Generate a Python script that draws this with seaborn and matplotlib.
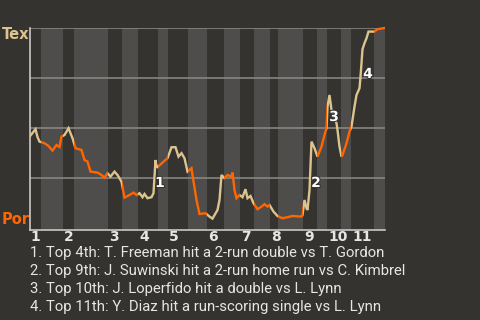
import numpy as np
import pandas as pd
import matplotlib
matplotlib.use("Agg")
import matplotlib.pyplot as plt
import matplotlib.transforms as mtransforms
import matplotlib.patheffects as pe
from matplotlib.patches import Rectangle
import seaborn as sns

# ---- data ----
play = [0, 3, 6, 8, 10, 15, 19, 23, 27, 30, 32, 35, 39, 43, 46, 52, 55, 58, 61, 68,
        72, 75, 78, 81, 85, 88, 92, 95, 100, 104, 107, 110, 113, 115, 118, 122, 124, 126, 127, 128,
        133, 138, 142, 146, 149, 152, 155, 158, 162, 163, 167, 170, 176, 180, 183, 188, 190, 192, 195, 198,
        202, 203, 205, 207, 210, 213, 216, 218, 221, 224, 228, 232, 235, 238, 240, 244, 248, 253, 258, 263,
        272, 273, 275, 277, 278, 280, 282, 285, 288, 292, 295, 297, 298, 300, 302, 307, 308, 310, 312, 313,
        317, 320, 322, 325, 327, 330, 331, 332, 333, 335, 337, 339, 345, 348, 355]
tex_wp = [45.6, 47.5, 49.4, 45.5, 43.2, 42.4, 41.0, 38.7, 41.5, 40.5, 45.7, 46.5, 49.9, 44.9, 39.9, 39.0, 34.0, 33.2, 28.2, 27.7,
          26.5, 25.2, 27.4, 25.7, 28.2, 26.5, 23.2, 15.2, 16.5, 17.7, 16.5, 17.4, 15.4, 17.0, 14.9, 15.4, 17.4, 34.0, 30.7, 30.4,
          32.7, 34.9, 40.4, 40.4, 35.7, 37.4, 34.9, 28.2, 29.9, 26.5, 14.0, 7.0, 7.4, 5.7, 4.7, 9.0, 14.0, 26.5, 24.9, 26.5,
          25.7, 27.7, 19.0, 14.9, 16.5, 15.4, 19.4, 14.9, 16.0, 12.4, 9.4, 10.7, 11.9, 10.7, 11.5, 8.2, 6.0, 4.9, 5.4, 6.0,
          5.7, 6.5, 14.0, 9.9, 9.0, 19.0, 43.2, 39.9, 35.7, 40.7, 46.5, 49.9, 60.7, 66.5, 59.0, 52.4, 49.0, 40.7, 35.7, 36.5,
          42.4, 48.2, 50.7, 60.7, 66.5, 69.9, 75.7, 82.4, 89.4, 92.4, 94.9, 98.2, 98.2, 99.4, 100.0]
half_edges = [0, 11.5, 33.5, 44.5, 78.5, 92.5, 108.5, 128.5, 138.5, 158.5, 177.5, 194.5,
              210.5, 224.5, 240.5, 248.5, 273.5, 287.5, 297.5, 311.5, 321.5, 344.5, 355]
inning_labels = ["1", "2", "3", "4", "5", "6", "7", "8", "9", "10", "11"]
teams = ["Tex", "Por"]
team_colors = ["#dcc48e", "#ff6600"]
event_ids = ["1", "2", "3", "4"]
event_label_play = [130.5, 286.5, 304.5, 338.5]
event_label_wp = [22.5, 22.5, 55.5, 77.0]
notes = [
    "1. Top 4th: T. Freeman hit a 2-run double vs T. Gordon",
    "2. Top 9th: J. Suwinski hit a 2-run home run vs C. Kimbrel",
    "3. Top 10th: J. Loperfido hit a double vs L. Lynn",
    "4. Top 11th: Y. Diaz hit a run-scoring single vs L. Lynn",
]
grid_levels = [25, 50, 75, 100]

BG = "#353330"
BAND = "#4e4d4b"
GRID = "#8c8b88"
SPINE = "#c8c8c8"
TEXT = "#e6e6e6"

sns.set_theme(style="dark")
plt.rcParams["font.family"] = ["DejaVu Sans"]

fig = plt.figure(figsize=(4.8, 3.2), dpi=100, facecolor=BG)
ax = fig.add_axes([29.5 / 480, 1 - 230 / 320, 355 / 480, 202 / 320])
ax.set_facecolor(BG)
ax.set_xlim(0, 355)
ax.set_ylim(-1, 100)

# half-inning bands (bottom halves lighter)
for i in range(1, len(half_edges) - 1, 2):
    ax.axvspan(half_edges[i], half_edges[i + 1], color=BAND, lw=0, zorder=0)

for v in grid_levels:
    ax.axhline(v, color=GRID, lw=1.1, zorder=1)

df = pd.DataFrame({"play": play, "wp": tex_wp})
for i in range(len(half_edges) - 1):
    col = team_colors[i % 2]
    sns.lineplot(data=df, x="play", y="wp", color=col, lw=1.7, estimator=None,
                 sort=False, ax=ax, zorder=3)
    line = ax.lines[-1]
    rect = Rectangle((half_edges[i], -5), half_edges[i + 1] - half_edges[i], 115,
                     transform=ax.transData)
    line.set_clip_path(rect)
    line.set_solid_joinstyle("miter")

ax.set_xticks([])
ax.set_yticks([])
ax.set_xlabel("")
ax.set_ylabel("")
for s in ["top", "right"]:
    ax.spines[s].set_visible(False)
for s in ["left", "bottom"]:
    ax.spines[s].set_color(SPINE)
    ax.spines[s].set_linewidth(1.2)

# event markers
for eid, x, y in zip(event_ids, event_label_play, event_label_wp):
    ax.text(x, y, eid, color="white", fontsize=10, fontweight="bold", ha="center", va="center",
            zorder=5, path_effects=[pe.withStroke(linewidth=1.5, foreground=BG)])

# inning labels
trans = mtransforms.blended_transform_factory(ax.transData, fig.transFigure)
for k, lab in enumerate(inning_labels):
    ax.text(half_edges[2 * k] + 1.0, 1 - 237 / 320, lab, transform=trans, color=TEXT,
            fontsize=10, fontweight="bold", ha="left", va="center", clip_on=False)

# team labels
fig.text(2 / 480, 1 - 34.5 / 320, teams[0], color=team_colors[0], fontsize=10.5,
         fontweight="bold", ha="left", va="center")
fig.text(2 / 480, 1 - 219 / 320, teams[1], color=team_colors[1], fontsize=10.5,
         fontweight="bold", ha="left", va="center")

# notes
for k, note in enumerate(notes):
    fig.text(30 / 480, 1 - (253.5 + 17.8 * k) / 320, note, color=TEXT, fontsize=10.75,
             family=["Roboto", "DejaVu Sans"], ha="left", va="center")

fig.savefig("out.png", dpi=100, facecolor=BG)
